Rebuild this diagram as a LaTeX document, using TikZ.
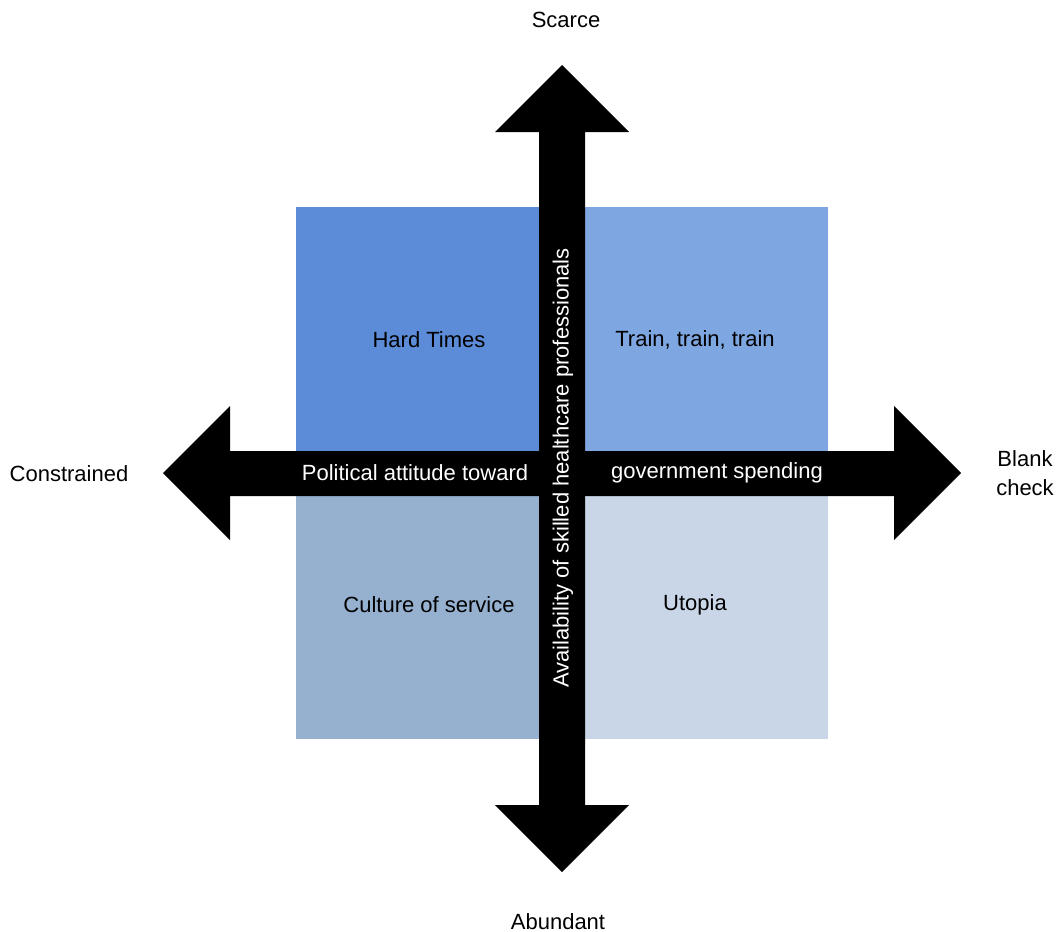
\documentclass[tikz,border=0pt]{standalone}
\usepackage{fontspec}
\setmainfont{Liberation Sans}
\definecolor{qTL}{RGB}{92,140,216}
\definecolor{qTR}{RGB}{126,166,224}
\definecolor{qBL}{RGB}{150,176,208}
\definecolor{qBR}{RGB}{200,214,232}
\begin{document}
\begin{tikzpicture}[x=1pt,y=-1pt,
  lbl/.style={font=\fontsize{22}{29}\selectfont, text=black, inner sep=0pt},
  axlbl/.style={font=\fontsize{22}{29}\selectfont, text=white, inner sep=0pt}]
\useasboundingbox (0,0) rectangle (1058,932);
% quadrants
\fill[qTL] (296,207) rectangle (562,473);
\fill[qTR] (562,207) rectangle (828,473);
\fill[qBL] (296,473) rectangle (562,739);
\fill[qBR] (562,473) rectangle (828,739);
% vertical double arrow
\fill[black] (562,65) -- (629,132) -- (585,132) -- (585,805) -- (629,805) -- (562,872)
  -- (495,805) -- (539,805) -- (539,132) -- (495,132) -- cycle;
% horizontal double arrow
\fill[black] (163,473) -- (230,406) -- (230,451) -- (894,451) -- (894,406) -- (961,473)
  -- (894,540) -- (894,496) -- (230,496) -- (230,540) -- cycle;
% quadrant labels
\node[lbl] (ht) at (429,340) {Hard Times};
\node[lbl] (tr) at (695,340) {Train, train, train};
\node[lbl] (cs) at (429,605) {Culture of service};
\node[lbl] (ut) at (695,605) {Utopia};
% axis labels
\node[axlbl] (pa) at (415,473) {Political attitude toward};
\node[axlbl] (gs) at (717,473) {government spending};
\node[axlbl, rotate=90] (av) at (563,468) {Availability of skilled healthcare professionals};
% ends
\node[lbl] (sc) at (566,20) {Scarce};
\node[lbl] (ab) at (558,922) {Abundant};
\node[lbl] (co) at (69,474) {Constrained};
\node[lbl, align=center] (bc) at (1025,473) {Blank\\check};
\end{tikzpicture}
\end{document}
